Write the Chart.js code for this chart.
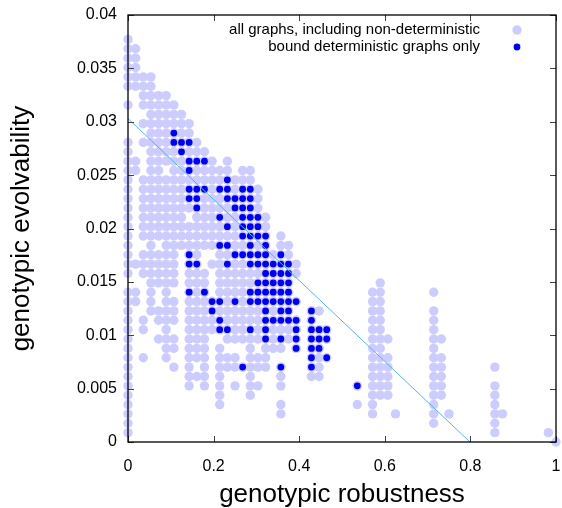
<!DOCTYPE html>
<html>
<head>
<meta charset="utf-8">
<script src="https://cdn.jsdelivr.net/npm/chart.js@4.4.0/dist/chart.umd.min.js"></script>
<style>
html, body { margin: 0; padding: 0; background: #fff; }
#wrap { width: 562px; height: 508px; }
</style>
</head>
<body>
<div id="wrap"><canvas id="chart"></canvas></div>
<script>
// grid steps of the two measures (robustness = k/56)
const robustnessStep = 1 / 56;
const evolvabilityStep = 0.000877;

// robustness numerators present on each evolvability row (array index = row)
const allGraphsByRow = [
  [56],
  [0, 48, 55],
  [0, 40, 48],
  [0, 20, 32, 35, 40, 42, 48, 49],
  [0, 12, 20, 30, 32, 40, 48],
  [0, 12, 16, 32, 33, 34, 40, 41, 48],
  [0, 8, 10, 12, 14, 16, 17, 20, 30, 32, 33, 34, 40, 41, 48],
  [0, 8, 9, 10, 12, 16, 20, 24, 25, 32, 33, 34, 40, 41],
  [0, 6, 8, 10, 12, 13, 14, 15, 16, 17, 18, 20, 24, 25, 32, 33, 34, 40, 41, 48],
  [0, 2, 5, 8, 9, 10, 12, 13, 14, 16, 17, 18, 24, 25, 26, 32, 33, 34, 40, 41],
  [0, 5, 6, 8, 9, 10, 12, 16, 18, 19, 20, 22, 24, 25, 32, 33, 40],
  [0, 4, 5, 6, 8, 9, 10, 13, 14, 15, 16, 17, 18, 19, 20, 21, 22, 24, 25, 26, 32, 33, 34, 40, 41],
  [0, 2, 5, 8, 9, 10, 11, 12, 13, 14, 15, 16, 17, 18, 19, 20, 21, 22, 24, 25, 26, 32, 33, 40],
  [0, 2, 4, 5, 6, 8, 9, 10, 11, 12, 13, 14, 15, 16, 17, 18, 19, 20, 21, 22, 24, 32, 33, 40],
  [0, 3, 4, 5, 6, 8, 9, 10, 11, 12, 13, 14, 15, 16, 17, 18, 19, 20, 21, 24, 25, 32, 33, 40],
  [0, 1, 3, 5, 6, 8, 9, 10, 11, 12, 13, 14, 15, 16, 17, 18, 19, 20, 21, 22, 32, 33],
  [0, 1, 3, 5, 8, 9, 10, 12, 13, 14, 15, 16, 17, 18, 19, 20, 21, 32, 33, 40],
  [3, 4, 5, 6, 8, 9, 10, 12, 13, 14, 15, 16, 17, 18, 19, 20, 21, 33],
  [0, 2, 3, 4, 5, 6, 8, 9, 10, 12, 13, 14, 15, 16, 17, 18, 19, 20, 21, 22],
  [0, 1, 2, 3, 4, 5, 6, 8, 9, 11, 12, 13, 14, 15, 16, 17, 18, 19, 20, 21, 22],
  [0, 2, 3, 4, 5, 6, 8, 9, 12, 13, 14, 15, 16, 17, 18, 19, 20, 21],
  [0, 3, 5, 6, 7, 8, 9, 10, 11, 12, 13, 14, 15, 16, 17, 18, 20, 21],
  [0, 2, 3, 4, 5, 6, 7, 8, 9, 10, 11, 12, 13, 14, 15, 16, 17, 18, 20],
  [0, 2, 3, 4, 5, 6, 7, 8, 9, 10, 11, 12, 13, 14, 15, 16, 17, 18],
  [0, 2, 3, 4, 5, 6, 7, 9, 10, 11, 12, 13, 14, 15, 16, 17, 18],
  [0, 2, 3, 4, 5, 6, 7, 8, 9, 10, 11, 12, 13, 14, 15, 16, 17],
  [0, 2, 3, 4, 5, 6, 7, 8, 9, 10, 11, 12, 13, 14, 15, 16, 17],
  [0, 2, 3, 4, 5, 6, 7, 8, 9, 10, 11, 12, 13, 14, 15, 16, 17],
  [0, 2, 3, 4, 5, 6, 7, 8, 9, 10, 11, 12, 13, 14, 15, 16],
  [0, 1, 3, 4, 6, 7, 8, 9, 10, 11, 12, 13, 15, 16],
  [0, 1, 3, 4, 5, 6, 7, 8, 9, 10, 11, 13],
  [0, 3, 4, 5, 6, 7, 8, 9, 10],
  [0, 2, 3, 4, 5, 6, 7, 8, 9],
  [3, 4, 5, 6, 7, 8],
  [2, 3, 4, 5, 6, 7, 8],
  [3, 4, 5, 6, 7],
  [0, 2, 3, 4, 5, 6],
  [2, 3, 4, 5],
  [0, 1, 2, 3],
  [0, 1, 2, 3],
  [0, 1],
  [0, 1],
  [0, 1],
  [0]
];

const deterministicByRow = [
  [], [], [], [], [], [],
  [30],
  [],
  [15, 20, 24],
  [24, 26],
  [22, 24, 25],
  [18, 20, 22, 24, 25, 26],
  [12, 13, 16, 18, 22, 24, 25, 26],
  [12, 18, 19, 20, 21, 22, 24],
  [11, 18, 20, 21, 24],
  [11, 12, 14, 16, 17, 18, 19, 20, 21, 22],
  [8, 10, 16, 17, 18, 19, 20, 21],
  [17, 18, 19, 20, 21],
  [18, 19, 20, 21],
  [8, 9, 13, 16, 17, 18, 19, 20, 21],
  [8, 14, 15, 16, 17, 18, 20],
  [12, 13, 16, 18],
  [15, 16, 17, 18],
  [13, 15, 16, 17],
  [12, 15, 16, 17],
  [9, 14, 15, 16],
  [8, 9, 13, 14, 15, 16],
  [8, 9, 10, 12, 13, 15, 16],
  [13],
  [8],
  [8, 9, 10],
  [7],
  [6, 7, 8],
  [6]
];

const fitLineX = [0, 0.799];
const fitLineY = [0.0303, 0];

const xTicks = [0, 0.2, 0.4, 0.6, 0.8, 1];
const xTickLabels = ['0', '0.2', '0.4', '0.6', '0.8', '1'];
const yTicks = [0, 0.005, 0.01, 0.015, 0.02, 0.025, 0.03, 0.035, 0.04];
const yTickLabels = ['0', '0.005', '0.01', '0.015', '0.02', '0.025', '0.03', '0.035', '0.04'];
const legendLabels = ['all graphs, including non-deterministic', 'bound deterministic graphs only'];

const FONT = "'Liberation Sans', Arial, sans-serif";
const LIGHT = 'rgb(204, 204, 255)';
const BLUE = 'rgb(0, 0, 240)';

function toPoints(rows) {
    const pts = [];
    rows.forEach((cols, r) => {
        cols.forEach(c => pts.push({ x: c * robustnessStep, y: r * evolvabilityStep }));
    });
    return pts;
}

// the deterministic graphs are part of "all graphs" too
const lightPoints = toPoints(allGraphsByRow).concat(toPoints(deterministicByRow));
const bluePoints = toPoints(deterministicByRow);
const fitPoints = fitLineX.map((x, i) => ({ x: x, y: fitLineY[i] }));

// border box with inward ticks, gnuplot style
const framePlugin = {
    id: 'frame',
    afterDatasetsDraw(chart) {
        const { ctx, chartArea: a, scales } = chart;
        ctx.save();
        ctx.strokeStyle = '#444';
        ctx.lineWidth = 1;
        ctx.beginPath();
        xTicks.forEach(v => {
            const px = Math.round(scales.x.getPixelForValue(v)) + 0.5;
            ctx.moveTo(px, a.bottom); ctx.lineTo(px, a.bottom - 6);
            ctx.moveTo(px, a.top); ctx.lineTo(px, a.top + 6);
        });
        yTicks.forEach(v => {
            const py = Math.round(scales.y.getPixelForValue(v)) + 0.5;
            ctx.moveTo(a.left, py); ctx.lineTo(a.left + 6, py);
            ctx.moveTo(a.right, py); ctx.lineTo(a.right - 6, py);
        });
        ctx.stroke();
        ctx.strokeStyle = '#000';
        ctx.lineWidth = 1.3;
        ctx.strokeRect(a.left, a.top, a.right - a.left, a.bottom - a.top);

        // key, text right aligned, marker to the right
        ctx.font = '15px ' + FONT;
        ctx.fillStyle = '#000';
        ctx.textAlign = 'right';
        ctx.textBaseline = 'middle';
        ctx.fillText(legendLabels[0], 480, 30);
        ctx.fillText(legendLabels[1], 480, 47);
        ctx.fillStyle = LIGHT;
        ctx.beginPath(); ctx.arc(517, 30, 4.7, 0, Math.PI * 2); ctx.fill();
        ctx.fillStyle = BLUE;
        ctx.beginPath(); ctx.arc(517, 47, 3.4, 0, Math.PI * 2); ctx.fill();
        ctx.restore();
    }
};

new Chart(document.getElementById('chart'), {
    type: 'scatter',
    data: {
        datasets: [
            {
                type: 'line',
                data: fitPoints,
                borderColor: '#56b4e9',
                borderWidth: 1,
                pointRadius: 0,
                fill: false,
                order: 0
            },
            {
                data: bluePoints,
                backgroundColor: BLUE,
                borderWidth: 0,
                pointRadius: 3.4,
                clip: false,
                order: 1
            },
            {
                data: lightPoints,
                backgroundColor: LIGHT,
                borderWidth: 0,
                pointRadius: 4.7,
                clip: false,
                order: 2
            }
        ]
    },
    options: {
        responsive: true,
        maintainAspectRatio: false,
        animation: false,
        events: [],
        layout: { autoPadding: false, padding: { top: 15, right: 6, left: 0, bottom: 0 } },
        plugins: { legend: { display: false }, tooltip: { enabled: false } },
        scales: {
            x: {
                type: 'linear',
                min: 0,
                max: 1,
                grid: { display: false, drawTicks: false },
                border: { display: false },
                afterBuildTicks: s => { s.ticks = xTicks.map(v => ({ value: v })); },
                afterFit: s => {
                    s.height = 66;
                    s.paddingLeft = 0;
                    s.paddingRight = 0;
                },
                ticks: {
                    autoSkip: false,
                    maxRotation: 0,
                    padding: 15,
                    color: '#000',
                    font: { family: FONT, size: 16 },
                    callback: (v) => xTickLabels[xTicks.indexOf(v)]
                },
                title: {
                    display: true,
                    text: 'genotypic robustness',
                    color: '#000',
                    font: { family: FONT, size: 26 },
                    padding: { top: 0, bottom: -2 }
                }
            },
            y: {
                type: 'linear',
                min: 0,
                max: 0.04,
                grid: { display: false, drawTicks: false },
                border: { display: false },
                afterBuildTicks: s => { s.ticks = yTicks.map(v => ({ value: v })); },
                afterFit: s => {
                    s.width = 128;
                    s.paddingTop = 0;
                    s.paddingBottom = 0;
                },
                ticks: {
                    autoSkip: false,
                    padding: 11,
                    color: '#000',
                    font: { family: FONT, size: 16 },
                    callback: (v) => yTickLabels[yTicks.indexOf(v)]
                },
                title: {
                    display: true,
                    text: 'genotypic evolvability',
                    color: '#000',
                    font: { family: FONT, size: 26 },
                    padding: { top: 6, bottom: 0 }
                }
            }
        }
    },
    plugins: [framePlugin]
});
</script>
</body>
</html>
